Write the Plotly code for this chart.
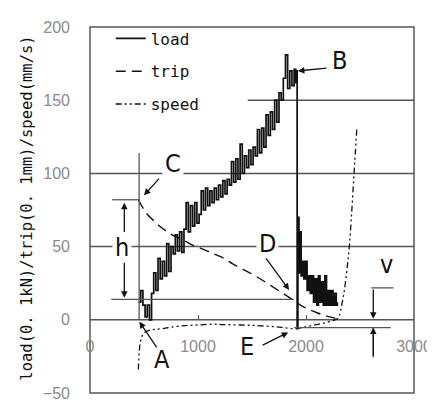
import plotly.graph_objects as go

# ---------------- data ----------------
load_x = [450, 470, 490, 510, 530, 550, 570, 590, 610, 630, 650, 670, 690, 710, 730, 750,
          770, 790, 810, 830, 850, 870, 890, 910, 930, 950, 970, 990,
          1010, 1030, 1050, 1070, 1090, 1110, 1130, 1150, 1170, 1190,
          1210, 1230, 1250, 1270, 1290, 1310, 1330, 1350, 1370, 1390, 1410, 1430,
          1450, 1470, 1490, 1510, 1530, 1550, 1570, 1590, 1610,
          1630, 1650, 1670, 1690, 1710, 1730, 1750, 1770, 1790,
          1810, 1830, 1850, 1870, 1890, 1905, 1916, 1918,
          1925, 1935, 1945, 1955, 1965, 1980, 1995, 2010, 2025, 2040, 2055, 2070,
          2085, 2100, 2115, 2130, 2145, 2160, 2175, 2190, 2205, 2220, 2235, 2250,
          2265, 2280, 2290]
load_y = [12, 20, 10, 2, 10, 0, 18, 32, 20, 42, 28, 40, 30, 52, 33, 50,
          45, 58, 47, 60, 46, 62, 80, 60, 78, 64, 80, 66,
          72, 88, 75, 90, 78, 88, 80, 90, 82, 92,
          84, 95, 86, 96, 92, 108, 94, 110, 96, 120, 100, 112,
          104, 116, 106, 118, 112, 130, 114, 131, 118,
          140, 126, 142, 130, 150, 135, 155, 150, 165,
          181, 158, 170, 160, 171, 162, 170, -6,
          70, 32, 60, 30, 40, 28, 40, 20, 30, 18, 30, 12,
          28, 10, 30, 12, 26, 10, 30, 10, 20, 10, 20, 10,
          18, 10, 12]

trip_x = [448, 520, 600, 670, 760, 850, 950, 1056, 1146, 1240, 1325, 1430, 1530,
          1640, 1745, 1820, 1890, 1960, 2040, 2100, 2160, 2230, 2290]
trip_y = [82, 73, 67, 62.5, 58, 55, 51, 48, 45, 42, 38, 34, 30,
          25, 20, 16.5, 13, 9.5, 6.6, 4.8, 3.3, 1.8, 0.7]

speed_x = [448, 452, 458, 470, 490, 520, 560, 600, 670, 750, 880, 1000, 1146, 1235,
           1500, 1750, 1890, 1950, 2050, 2150, 2250, 2290, 2310, 2330, 2355, 2380,
           2400, 2420, 2445, 2470]
speed_y = [-34, -27, -20, -14, -10, -8, -7, -6.5, -6, -5, -4, -3.5, -3, -3.3,
           -3.8, -5, -6, -5.5, -4, -2.5, -0.5, 0.7, 3, 10, 20, 35,
           49, 70, 100, 130]

x_ticks = [0, 1000, 2000, 3000]
y_ticks = [-50, 0, 50, 100, 150, 200]
y_title = "load(0. 1kN)/trip(0. 1mm)/speed(mm/s)"

# grid lines (value, start of line along x)
grid_y = [0, 50, 100, 150]
grid_x0 = [0, 0, 0, 1460]

GRID = "#555555"
INK = "#111111"
LBL_FONT = "Liberation Sans Narrow, DejaVu Sans Condensed, Liberation Sans, Arial"
MONO = "DejaVu Sans Mono, Liberation Mono, monospace"

fig = go.Figure()
fig.add_trace(go.Scatter(x=load_x, y=load_y, name="load", mode="lines",
                         line=dict(color=INK, width=1.7, shape="hv"),
                         legendgroup="a"))
fig.add_trace(go.Scatter(x=trip_x, y=trip_y, name="trip", mode="lines",
                         line=dict(color=INK, width=1.4, dash="10px,6px", shape="spline"),
                         legendgroup="b"))
fig.add_trace(go.Scatter(x=speed_x, y=speed_y, name="speed", mode="lines",
                         line=dict(color=INK, width=1.3, dash="6px,3px,2px,3px,2px,3px",
                                   shape="spline"),
                         legendgroup="c"))

shapes = []
# plot frame
shapes.append(dict(type="rect", xref="paper", yref="paper", x0=0, y0=0, x1=1, y1=1,
                   line=dict(color=GRID, width=1.5), layer="below"))
for gy, gx0 in zip(grid_y, grid_x0):
    shapes.append(dict(type="line", xref="x", yref="y", x0=gx0, x1=3000, y0=gy, y1=gy,
                       line=dict(color=GRID, width=1.5), layer="below"))

# helper lines of the annotations
helper = [
    (455, 0, 455, 114),      # start-of-loading vertical
    (206, 82, 457, 82),      # top of h
    (197, 14, 1890, 14),     # bottom of h
    (1890, -5.3, 2785, -5.3),  # lower line of v
    (2605, 21.8, 2810, 21.8),  # upper line of v
    (2623, -5.3, 2623, -25.7),
]
for x0, y0, x1, y1 in helper:
    shapes.append(dict(type="line", xref="x", yref="y", x0=x0, y0=y0, x1=x1, y1=y1,
                       line=dict(color=GRID, width=1.3)))

annotations = []
labels = [("C", 770, 106.9, True), ("B", 2310, 177.4, False), ("D", 1639, 52.1, True),
          ("E", 1450, -18.5, False), ("A", 665, -27, False), ("h", 296, 49.5, True),
          ("v", 2749, 38, False)]
for t, x, y, bg in labels:
    annotations.append(dict(text=t, x=x, y=y, xref="x", yref="y", showarrow=False,
                            font=dict(family=LBL_FONT, size=25, color=INK),
                            bgcolor="white" if bg else None, borderpad=2))

arrows = [  # head x, head y, tail x, tail y
    (500, 85, 652, 97.5),      # C
    (1925, 170, 2203, 172),    # B
    (1844, 20.4, 1620, 43),    # D
    (1835, -8.6, 1585, -17.8),  # E
    (457, -1.3, 627, -19.8),   # A
    (318, 80, 318, 59),        # h up
    (318, 15, 318, 40),        # h down
    (2623, 0.7, 2623, 21.8),   # v down
    (2623, -5.3, 2623, -25.7),  # v up
]
for hx, hy, tx, ty in arrows:
    annotations.append(dict(text="", x=hx, y=hy, ax=tx, ay=ty, xref="x", yref="y",
                            axref="x", ayref="y", showarrow=True, arrowhead=2,
                            arrowsize=1, arrowwidth=1.3, arrowcolor=INK))

annotations.append(dict(text=y_title, xref="paper", yref="paper", x=-0.193, y=0.505,
                        xanchor="center", yanchor="middle", textangle=-90, showarrow=False,
                        font=dict(family=MONO, size=15.5, color=INK)))

fig.update_layout(
    width=435, height=405,
    margin=dict(l=82, r=17, t=15, b=11),
    paper_bgcolor="white", plot_bgcolor="white",
    showlegend=True,
    legend=dict(x=0.064, y=1.015, xanchor="left", yanchor="top",
                bgcolor="rgba(0,0,0,0)", tracegroupgap=9,
                font=dict(family=MONO, size=16, color=INK)),
    xaxis=dict(range=[0, 3000], tickvals=x_ticks, showgrid=False, zeroline=False,
               showline=False, anchor="free", position=0.2, ticks="inside", ticklen=5,
               tickcolor=GRID, ticklabelstandoff=15, ticklabeloverflow="allow",
               tickfont=dict(family="Liberation Sans, Arial", size=16, color="#8a8a8a")),
    yaxis=dict(range=[-50, 200], tickvals=y_ticks, showgrid=False, zeroline=False,
               showline=False, ticks="", ticklabelstandoff=19, ticklabeloverflow="allow",
               tickfont=dict(family="Liberation Sans, Arial", size=16, color="#8a8a8a")),
    shapes=shapes,
    annotations=annotations,
)

fig.write_html("out.html")
